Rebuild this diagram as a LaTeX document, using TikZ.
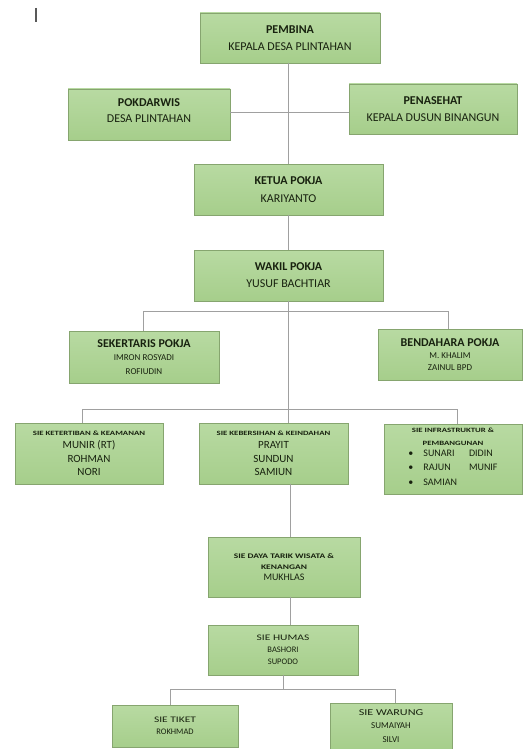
\documentclass[tikz,border=0pt]{standalone}
\usepackage{fontspec}
\setmainfont{Carlito}
\usetikzlibrary{shadows}
\definecolor{boxfill}{HTML}{A6CE8B}
\definecolor{boxtop}{HTML}{B8DAA2}
\definecolor{boxdraw}{HTML}{86A56F}
\definecolor{linec}{HTML}{A0A0A0}
\definecolor{textc}{HTML}{18220F}
\newcommand{\fs}[2]{\fontsize{#1}{#2}\selectfont}
\newcommand{\wide}[1]{\scalebox{1.35}[1]{#1}}
\tikzset{
  box/.style={draw=boxdraw, top color=boxtop, bottom color=boxfill, line width=0.6pt,
    inner sep=0pt, outer sep=0pt, align=center, text=textc,
    drop shadow={shadow xshift=1.2pt, shadow yshift=-1.2pt, opacity=0.25, fill=black!60}},
  conn/.style={draw=linec, line width=0.9pt},
}
\begin{document}
\begin{tikzpicture}[x=1pt,y=-1pt]
\useasboundingbox (0,0) rectangle (526,749);
% cursor mark
\draw[black!65, line width=1.2pt] (36,8) -- (36,22);

\node[box, minimum width=180, minimum height=50, font=\fs{12}{17}] (pembina) at (290,38)
  {\textbf{PEMBINA}\\KEPALA DESA PLINTAHAN};
\node[box, minimum width=162, minimum height=51, font=\fs{12}{16}] (pokdarwis) at (149,114.5)
  {\textbf{POKDARWIS}\\DESA PLINTAHAN\\[-8pt]\mbox{}};
\node[box, minimum width=168, minimum height=50, font=\fs{12}{17}] (penasehat) at (433,109)
  {\textbf{PENASEHAT}\\KEPALA DUSUN BINANGUN};
\node[box, minimum width=189, minimum height=51, font=\fs{12}{18}] (ketua) at (288.5,189.5)
  {\textbf{KETUA POKJA}\\KARIYANTO};
\node[box, minimum width=189, minimum height=51, font=\fs{12}{17}] (wakil) at (288.5,275.5)
  {\textbf{WAKIL POKJA}\\YUSUF BACHTIAR};
\node[box, minimum width=150, minimum height=52, font=\fs{9}{13.5}] (sekertaris) at (144,357)
  {{\fs{12}{13}\textbf{SEKERTARIS POKJA}}\\IMRON ROSYADI\\ROFIUDIN};
\node[box, minimum width=144, minimum height=51, font=\fs{9}{12}] (bendahara) at (450,354.5)
  {{\fs{12}{12}\textbf{BENDAHARA POKJA}}\\M. KHALIM\\ZAINUL BPD};
\node[box, minimum width=148, minimum height=61, font=\fs{11}{13.5}] (ketertiban) at (89,453.5)
  {{\fs{6.5}{10}\wide{\textbf{SIE KETERTIBAN \& KEAMANAN}}}\\MUNIR (RT)\\ROHMAN\\NORI};
\node[box, minimum width=149, minimum height=61, font=\fs{11}{13.5}] (kebersihan) at (273.5,453.5)
  {{\fs{6.5}{10}\wide{\textbf{SIE KEBERSIHAN \& KEINDAHAN}}}\\PRAYIT\\SUNDUN\\SAMIUN};
\node[box, minimum width=138, minimum height=70, font=\fs{10}{14.5}] (infra) at (453,459)
  {{\fs{6.5}{9}\wide{\textbf{SIE INFRASTRUKTUR \&}}}\\[-1.5pt]{\fs{6.5}{9}\wide{\textbf{PEMBANGUNAN}}}\\[-1pt]
   \begin{tabular}{@{}l@{\hspace{10pt}}l@{\hspace{12pt}}l@{}}
   \textbullet & SUNARI & DIDIN\\
   \textbullet & RAJUN & MUNIF\\
   \textbullet & SAMIAN &
   \end{tabular}};
\node[box, minimum width=152, minimum height=60, font=\fs{10}{11}] (daya) at (284,567)
  {{\fs{7}{12}\wide{\textbf{SIE DAYA TARIK WISATA \&}}}\\{\fs{7}{10}\wide{\textbf{KENANGAN}}}\\MUKHLAS};
\node[box, minimum width=150, minimum height=50, font=\fs{8.5}{12}] (humas) at (283,650)
  {\wide{SIE HUMAS}\\BASHORI\\SUPODO};
\node[box, minimum width=126, minimum height=42, font=\fs{8.5}{11.5}] (tiket) at (175,726)
  {\wide{SIE TIKET}\\ROKHMAD};
\node[box, minimum width=122, minimum height=46, font=\fs{9}{13.5}] (warung) at (391,726)
  {\wide{SIE WARUNG}\\SUMAIYAH\\SILVI};

% junction coordinates
\coordinate (a1) at (230,112);
\coordinate (a2) at (349,112);
\coordinate (b1) at (143,311);
\coordinate (b2) at (448,311);
\coordinate (c1) at (82,409);
\coordinate (c2) at (457,409);
\coordinate (k) at (290,0);
\coordinate (e1) at (170,689);
\coordinate (e2) at (395,689);

\draw[conn] (pembina.south -| ketua.north) -- (ketua.north);
\draw[conn] (pokdarwis.east |- a1) -- (penasehat.west |- a2);
\draw[conn] (ketua.south) -- (wakil.north);
\draw[conn] (wakil.south) -- (wakil.south |- kebersihan.north);
\draw[conn] (sekertaris.north -| b1) -- (b1) -- (b2) -- (bendahara.north -| b2);
\draw[conn] (ketertiban.north -| c1) -- (c1) -- (c2) -- (infra.north -| c2);
\draw[conn] (kebersihan.south -| k) -- (daya.north -| k);
\draw[conn] (daya.south -| k) -- (humas.north -| k);
\draw[conn] (humas.south -| humas.north) -- (humas.south |- e1);
\draw[conn] (tiket.north -| e1) -- (e1) -- (e2) -- (warung.north -| e2);
\end{tikzpicture}
\end{document}
